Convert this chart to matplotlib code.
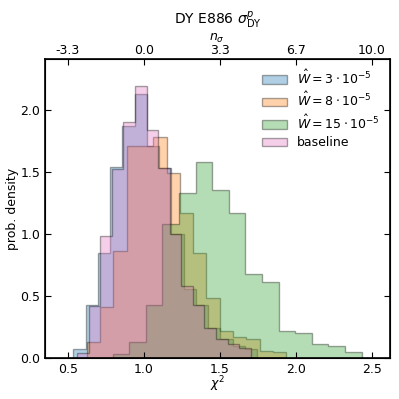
import numpy as np
import matplotlib
matplotlib.use("Agg")
import matplotlib.pyplot as plt

plt.rcParams['font.family'] = ['DejaVu Sans']
plt.rcParams['font.size'] = 9

# histogram data: bin range (chi2) and density per bin
labels = [r'$\hat{W}=3\cdot10^{-5}$', r'$\hat{W}=8\cdot10^{-5}$',
          r'$\hat{W}=15\cdot10^{-5}$', 'baseline']
colors = ['C0', 'C1', 'C2', 'C6']

range_w3 = [0.535, 1.745]
dens_w3 = [0.07, 0.43, 0.85, 1.54, 1.87, 2.13, 1.71, 1.53, 1.00, 0.56,
           0.43, 0.24, 0.15, 0.10, 0.07]

range_w8 = [0.623, 1.936]
dens_w8 = [0.13, 0.41, 0.86, 1.71, 1.71, 1.78, 1.49, 1.17, 0.85, 0.48,
           0.22, 0.17, 0.15, 0.06, 0.05]

range_w15 = [0.794, 2.432]
dens_w15 = [0.03, 0.13, 0.43, 1.08, 1.33, 1.58, 1.35, 1.17, 0.68, 0.61,
            0.22, 0.20, 0.11, 0.10, 0.05]

range_base = [0.561, 1.702]
dens_base = [0.04, 0.42, 0.98, 1.52, 1.90, 2.19, 1.84, 1.53, 1.00, 0.58,
             0.43, 0.24, 0.15, 0.11, 0.08]

top_ticks = [0.5, 1.0, 1.5, 2.0, 2.5]
top_labels = ['-3.3', '0.0', '3.3', '6.7', '10.0']

fig = plt.figure(figsize=(3.99, 3.99), dpi=100)
ax = fig.add_axes([0.1128, 0.1028, 0.8634, 0.7494])

ranges = [range_w3, range_w8, range_w15, range_base]
dens = [dens_w3, dens_w8, dens_w15, dens_base]
for r, d, c, lab in zip(ranges, dens, colors, labels):
    edges = np.linspace(r[0], r[1], len(d) + 1)
    ax.hist(edges[:-1], bins=edges, weights=d, histtype='stepfilled',
            color=c, ec='k', lw=1.0, alpha=0.35, label=lab)

ax.set_xlim(0.349, 2.615)
ax.set_ylim(0, 2.41)
ax.set_xticks([0.5, 1.0, 1.5, 2.0, 2.5])
ax.set_yticks([0.0, 0.5, 1.0, 1.5, 2.0])
ax.set_xlabel(r'$\chi^2$', labelpad=-1)
ax.set_ylabel('prob. density', labelpad=1)
ax.tick_params(direction='in', right=True, length=4)
for s in ax.spines.values():
    s.set_linewidth(1.2)

ax2 = ax.twiny()
ax2.set_xlim(ax.get_xlim())
ax2.set_xticks(top_ticks)
ax2.set_xticklabels(top_labels)
ax2.tick_params(direction='in', length=4, pad=1.5)
ax2.set_xlabel(r'$n_\sigma$', labelpad=2.5)
ax2.set_title(r'DY E886 $\sigma^p_{\rm DY}$', fontsize=10, pad=3)

ax.legend(loc='upper right', frameon=False, handlelength=2.0,
          labelspacing=0.35, borderaxespad=0.4)

fig.savefig('out.png', dpi=100)
